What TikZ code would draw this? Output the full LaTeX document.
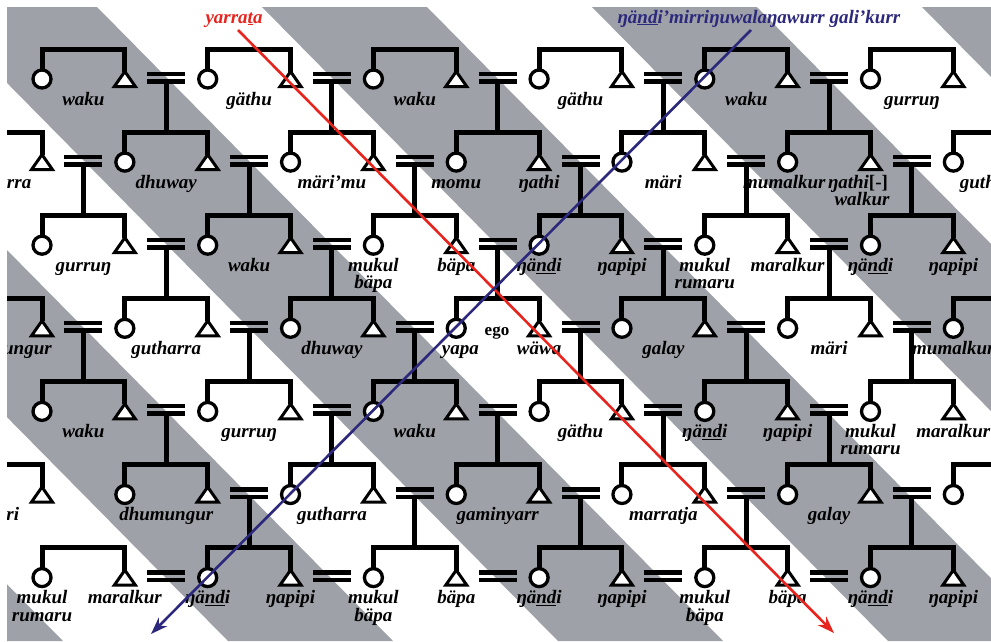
\documentclass[tikz,border=0pt]{standalone}
\usepackage{fontspec}
\setmainfont{Liberation Serif}
\usetikzlibrary{arrows.meta}
\definecolor{bandgray}{RGB}{158,162,168}
\definecolor{ytred}{RGB}{232,36,30}
\definecolor{ngblue}{RGB}{44,40,124}
\newcommand\undl[1]{\underline{#1}}
\newcounter{kinlab}
% sibling set: woman (circle) at column #1, man (triangle) at column #1+1, row #2
\newcommand\kinpair[2]{%
  \pgfmathsetmacro\xa{42+82.85*(#1)}%
  \pgfmathsetmacro\xb{42+82.85*(#1+1)}%
  \pgfmathsetmacro\yy{79+83.1*(#2)}%
  \draw[kinline] (\xa,\yy-9) |- (\xb,\yy-30) -- (\xb,\yy-7);%
  \node[fem] (f#1r#2) at (\xa,\yy) {};%
  \draw[male] (\xb-10.5,\yy+7.5) -- (\xb+10.5,\yy+7.5) -- (\xb,\yy-7.5) -- cycle;%
}
% marriage sign at column position #1, row #2; #3=1 adds the line of descent
\newcommand\kinmarr[3]{%
  \pgfmathsetmacro\xm{42+82.85*(#1)}%
  \pgfmathsetmacro\yy{79+83.1*(#2)}%
  \ifnum#3=1 \draw[kinline] (\xm,\yy+2) -- (\xm,\yy+83.1-30);\fi
  \fill (\xm-19,\yy-7.5) rectangle (\xm+19,\yy-3);%
  \fill (\xm-19,\yy) rectangle (\xm+19,\yy+4.5);%
}
% kin term below a position
\newcommand\kinlab[3]{%
  \stepcounter{kinlab}%
  \pgfmathsetmacro\lx{42+82.85*(#2)}%
  \pgfmathsetmacro\ly{79+83.1*(#1)+26}%
  \node[lbl] (lab\arabic{kinlab}) at (\lx,\ly) {#3};%
}
\newcommand\kinlabb[4]{%
  \stepcounter{kinlab}%
  \pgfmathsetmacro\lx{42+82.85*(#2)}%
  \pgfmathsetmacro\ly{79+83.1*(#1)+26}%
  \node[lbl] (lab\arabic{kinlab}a) at (\lx,\ly) {#3};%
  \node[lbl] (lab\arabic{kinlab}b) at (\lx,\ly+17.5) {#4};%
}
\tikzset{
  kinline/.style={line width=5pt, line cap=butt, line join=miter},
  fem/.style={circle, draw, fill=white, line width=3.3pt, minimum size=18pt, inner sep=0pt},
  male/.style={draw, fill=white, line width=3pt, line join=miter},
  lbl/.style={font=\fontsize{19}{19}\selectfont\bfseries\itshape, anchor=base, inner sep=0pt},
}
\begin{document}
\begin{tikzpicture}[x=1pt,y=-1pt]
\useasboundingbox (0,0) rectangle (991,641);
\fill[white] (0,0) rectangle (991,641);
\begin{scope}
\clip (7,7) rectangle (991,641);
% diagonal bands
\foreach \k in {-3,...,3} {
  \fill[bandgray] ({262+330*\k},7) -- ({427+330*\k},7) -- ({427+330*\k+626},641) -- ({262+330*\k+626},641) -- cycle;
}
% sibling sets
\foreach \ri in {0,2,4,6} { \foreach \ci in {0,2,...,10} { \kinpair{\ci}{\ri} } }
\foreach \ri in {1,3,5} { \foreach \ci in {-1,1,...,11} { \kinpair{\ci}{\ri} } }
% marriages with their children
\foreach \ri in {0,2,4} { \foreach \p in {1.5,3.5,5.5,7.5,9.5} { \kinmarr{\p}{\ri}{1} } }
\foreach \ri in {1,3} { \foreach \p in {0.5,2.5,4.5,6.5,8.5,10.5} { \kinmarr{\p}{\ri}{1} } }
\foreach \p in {2.5,4.5,6.5,8.5,10.5} { \kinmarr{\p}{5}{1} }
\foreach \p in {1.5,3.5,5.5,7.5,9.5} { \kinmarr{\p}{6}{0} }
% kin terms
\kinlab{0}{0.5}{waku}\kinlab{0}{2.5}{gäthu}\kinlab{0}{4.5}{waku}
\kinlab{0}{6.5}{gäthu}\kinlab{0}{8.5}{waku}\kinlab{0}{10.5}{gurruŋ}
\kinlab{1}{-0.55}{gutharra}\kinlab{1}{1.5}{dhuway}\kinlab{1}{3.5}{märi’mu}
\kinlab{1}{5}{momu}\kinlab{1}{6}{ŋathi}\kinlab{1}{7.5}{märi}
\kinlab{1}{8.96}{mumalkur}
\node[lbl] (walk1) at (858,{79+83.1+26}) {ŋathi{\upshape[-]}};
\node[lbl] (walk2) at (862,{79+83.1+43.5}) {walkur};
\kinlab{1}{11.5}{gutharra}
\kinlab{2}{0.5}{gurruŋ}\kinlab{2}{2.5}{waku}\kinlabb{2}{4}{mukul}{bäpa}
\kinlab{2}{5}{bäpa}\kinlab{2}{6}{ŋä\undl{nd}i}\kinlab{2}{7}{ŋapipi}
\kinlabb{2}{8}{mukul}{rumaru}\kinlab{2}{9}{maralkur}
\kinlab{2}{10}{ŋä\undl{nd}i}\kinlab{2}{11}{ŋapipi}
\kinlab{3}{-0.45}{dhumungur}\kinlab{3}{1.5}{gutharra}\kinlab{3}{3.5}{dhuway}
\kinlab{3}{5.05}{yapa}\kinlab{3}{6}{wäwa}
\node[font=\fontsize{17}{17}\selectfont\bfseries, anchor=base, inner sep=0pt] (ego) at (497,335) {ego};
\kinlab{3}{7.5}{galay}\kinlab{3}{9.5}{märi}\kinlab{3}{11}{mumalkur}
\kinlab{4}{0.5}{waku}\kinlab{4}{2.5}{gurruŋ}\kinlab{4}{4.5}{waku}
\kinlab{4}{6.5}{gäthu}\kinlab{4}{8}{ŋä\undl{nd}i}\kinlab{4}{9}{ŋapipi}
\kinlabb{4}{10}{mukul}{rumaru}\kinlab{4}{11}{maralkur}
\kinlab{5}{-0.5}{märi}\kinlab{5}{1.5}{dhumungur}\kinlab{5}{3.5}{gutharra}
\kinlab{5}{5.5}{gaminyarr}\kinlab{5}{7.5}{marratja}\kinlab{5}{9.5}{galay}
\kinlabb{6}{0}{mukul}{rumaru}\kinlab{6}{1}{maralkur}
\kinlab{6}{2}{ŋä\undl{nd}i}\kinlab{6}{3}{ŋapipi}
\kinlabb{6}{4}{mukul}{bäpa}\kinlab{6}{5}{bäpa}
\kinlab{6}{6}{ŋä\undl{nd}i}\kinlab{6}{7}{ŋapipi}
\kinlabb{6}{8}{mukul}{bäpa}\kinlab{6}{9}{bäpa}
\kinlab{6}{10}{ŋä\undl{nd}i}\kinlab{6}{11}{ŋapipi}
% the two lines of the moieties
\coordinate (ystart) at (238,30);
\coordinate (yend) at (834,633);
\coordinate (nstart) at (751,30);
\coordinate (nend) at (151,634);
\draw[ytred, line width=2.6pt, -{Stealth[length=17pt,width=12pt]}] (ystart) -- (yend);
\draw[ngblue, line width=2.6pt, -{Stealth[length=17pt,width=12pt]}] (nstart) -- (nend);
\node[lbl, text=ytred] (ylab) at (234,23) {yarra\undl{t}a};
\node[lbl, text=ngblue] (nlab) at (759,23) {ŋä\undl{nd}i’mirriŋuwalaŋawurr gali’kurr};
\end{scope}
\end{tikzpicture}
\end{document}
